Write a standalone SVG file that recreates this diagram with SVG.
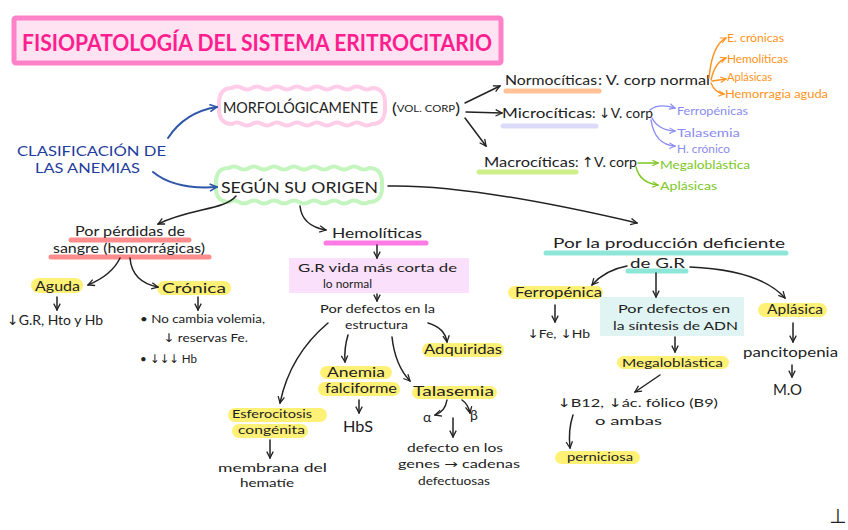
<svg xmlns="http://www.w3.org/2000/svg" width="848" height="530" viewBox="0 0 848 530">
<defs>
<style>
text{font-family:"Lato","Noto Sans","DejaVu Sans",sans-serif;fill:#222;font-size:14px}
.ar{font-family:"DejaVu Sans",sans-serif}
.t12{font-size:12px}
.or{fill:#ff9320;font-size:12px}
.lv{fill:#8a8cf0;font-size:12px}
.gr{fill:#7cc81e;font-size:12px}
.bl{fill:#1e3d9c;font-size:14px}
.caps{font-size:15px}
.c{fill:none;stroke:#222;stroke-width:1.5;stroke-linecap:round}
.cb{fill:none;stroke:#2f56a8;stroke-width:2;stroke-linecap:round}
.co{fill:none;stroke:#ff9320;stroke-width:1.4;stroke-linecap:round}
.cl{fill:none;stroke:#8a8cf0;stroke-width:1.4;stroke-linecap:round}
.cg{fill:none;stroke:#7cc81e;stroke-width:1.4;stroke-linecap:round}
.hy{fill:#fff176}
.ul{stroke-width:5;stroke-linecap:round;fill:none}
</style>
<marker id="mk" viewBox="0 0 10 10" refX="9" refY="5" markerWidth="8" markerHeight="8" markerUnits="userSpaceOnUse" orient="auto"><path d="M1,1 L9,5 L1,9" fill="none" stroke="#222" stroke-width="1.6"/></marker>
<marker id="mb" viewBox="0 0 10 10" refX="9" refY="5" markerWidth="9" markerHeight="9" markerUnits="userSpaceOnUse" orient="auto"><path d="M1,1 L9,5 L1,9" fill="none" stroke="#2f56a8" stroke-width="1.8"/></marker>
<marker id="mo" viewBox="0 0 10 10" refX="9" refY="5" markerWidth="7" markerHeight="7" markerUnits="userSpaceOnUse" orient="auto"><path d="M1,1 L9,5 L1,9" fill="none" stroke="#ff9320" stroke-width="1.6"/></marker>
<marker id="ml" viewBox="0 0 10 10" refX="9" refY="5" markerWidth="7" markerHeight="7" markerUnits="userSpaceOnUse" orient="auto"><path d="M1,1 L9,5 L1,9" fill="none" stroke="#8a8cf0" stroke-width="1.6"/></marker>
<marker id="mg" viewBox="0 0 10 10" refX="9" refY="5" markerWidth="7" markerHeight="7" markerUnits="userSpaceOnUse" orient="auto"><path d="M1,1 L9,5 L1,9" fill="none" stroke="#7cc81e" stroke-width="1.6"/></marker>
</defs>
<rect width="848" height="530" fill="#ffffff"/>

<g id="title">
<rect x="14" y="18" width="487" height="45" rx="2" fill="#ffe3f3" stroke="#ff82c9" stroke-width="5"/>
<text x="22" y="51" textLength="470" lengthAdjust="spacingAndGlyphs" style="font-size:23px;font-weight:bold;fill:#ff1e8e">FISIOPATOLOGÍA  DEL SISTEMA  ERITROCITARIO</text>
</g>

<g id="clasificacion">
<text class="bl" x="17" y="156" textLength="149" lengthAdjust="spacingAndGlyphs">CLASIFICACIÓN DE</text>
<text class="bl" x="35" y="173" textLength="105" lengthAdjust="spacingAndGlyphs">LAS ANEMIAS</text>
</g>

<g id="morfologicamente">
<path d="M232,88 q5,-3 10,0 t10,0 t10,0 t10,0 t10,0 t10,0 t10,0 t10,0 t10,0 t10,0 t10,0 t10,0 t10,0 t10,0 Q386,88 385,106 Q386,124 372,124 q-5,3 -10,0 t-10,0 t-10,0 t-10,0 t-10,0 t-10,0 t-10,0 t-10,0 t-10,0 t-10,0 t-10,0 t-10,0 t-10,0 t-10,0 Q218,124 219,106 Q218,88 232,88 Z" fill="none" stroke="#ffcde8" stroke-width="4"/>
<text class="caps" x="223" y="113" textLength="155" lengthAdjust="spacingAndGlyphs">MORFOLÓGICAMENTE</text>
<text x="392" y="114" style="font-size:16px" textLength="68" lengthAdjust="spacingAndGlyphs">(<tspan style="font-size:10px" dy="-2">VOL. CORP</tspan><tspan dy="2">)</tspan></text>
</g>

<g id="segun-origen">
<path d="M229,168 q5,-3 10,0 t10,0 t10,0 t10,0 t10,0 t10,0 t10,0 t10,0 t10,0 t10,0 t10,0 t10,0 t10,0 t10,0 Q383,168 382,185 Q383,202 369,202 q-5,3 -10,0 t-10,0 t-10,0 t-10,0 t-10,0 t-10,0 t-10,0 t-10,0 t-10,0 t-10,0 t-10,0 t-10,0 t-10,0 t-10,0 Q215,202 216,185 Q215,168 229,168 Z" fill="none" stroke="#c4f5be" stroke-width="4"/>
<text class="caps" x="221" y="193" textLength="157" lengthAdjust="spacingAndGlyphs">SEGÚN SU ORIGEN</text>
</g>

<g id="normociticas">
<line class="ul" x1="506" y1="91" x2="599" y2="91" stroke="#ffc195"/>
<text x="505" y="85" textLength="92" lengthAdjust="spacingAndGlyphs">Normocíticas</text>
<text x="598" y="85" textLength="112" lengthAdjust="spacingAndGlyphs">: V. corp normal</text>
</g>
<g id="microciticas">
<line class="ul" x1="503" y1="126" x2="596" y2="126" stroke="#dcdcfa"/>
<text x="502" y="118" textLength="90" lengthAdjust="spacingAndGlyphs">Microcíticas</text>
<text x="592" y="118" textLength="61" lengthAdjust="spacingAndGlyphs">: <tspan class="ar">↓</tspan>V. corp</text>
</g>
<g id="macrociticas">
<line class="ul" x1="479" y1="172" x2="576" y2="172" stroke="#cdf08a"/>
<text x="484" y="167" textLength="91" lengthAdjust="spacingAndGlyphs">Macrocíticas</text>
<text x="575" y="167" textLength="62" lengthAdjust="spacingAndGlyphs">: <tspan class="ar">↑</tspan>V. corp</text>
</g>

<g id="normo-tipos">
<text class="or" x="727" y="42" textLength="57" lengthAdjust="spacingAndGlyphs">E. crónicas</text>
<text class="or" x="727" y="63" textLength="61" lengthAdjust="spacingAndGlyphs">Hemolíticas</text>
<text class="or" x="727" y="81" textLength="45" lengthAdjust="spacingAndGlyphs">Aplásicas</text>
<text class="or" x="725" y="98" textLength="103" lengthAdjust="spacingAndGlyphs">Hemorragia aguda</text>
</g>
<g id="micro-tipos">
<text class="lv" x="677" y="115" textLength="71" lengthAdjust="spacingAndGlyphs">Ferropénicas</text>
<text class="lv" x="677" y="137" textLength="63" lengthAdjust="spacingAndGlyphs">Talasemia</text>
<text class="lv" x="677" y="153" textLength="53" lengthAdjust="spacingAndGlyphs">H. crónico</text>
</g>
<g id="macro-tipos">
<text class="gr" x="660" y="169" textLength="90" lengthAdjust="spacingAndGlyphs">Megaloblástica</text>
<text class="gr" x="660" y="190" textLength="57" lengthAdjust="spacingAndGlyphs">Aplásicas</text>
</g>

<g id="perdidas">
<line class="ul" x1="71" y1="240" x2="189" y2="240" stroke="#ff8c8c"/>
<line class="ul" x1="51" y1="257" x2="209" y2="257" stroke="#ff8c8c"/>
<text x="75" y="236" textLength="110" lengthAdjust="spacingAndGlyphs">Por pérdidas de</text>
<text x="53" y="253" textLength="152" lengthAdjust="spacingAndGlyphs">sangre (hemorrágicas)</text>
</g>
<g id="aguda">
<rect class="hy" x="31" y="278" width="52" height="15" rx="7.5"/>
<text x="35" y="291" textLength="45" lengthAdjust="spacingAndGlyphs">Aguda</text>
<text x="7" y="325" textLength="96" lengthAdjust="spacingAndGlyphs"><tspan class="ar">↓</tspan>G.R, Hto y Hb</text>
</g>
<g id="cronica">
<rect class="hy" x="157" y="281" width="74" height="14" rx="7"/>
<text x="162" y="293" textLength="64" lengthAdjust="spacingAndGlyphs">Crónica</text>
<text class="t12" x="140" y="323" textLength="125" lengthAdjust="spacingAndGlyphs">• No cambia volemia,</text>
<text class="t12" x="163" y="342" textLength="85" lengthAdjust="spacingAndGlyphs"><tspan class="ar">↓</tspan> reservas Fe.</text>
<text class="t12" x="140" y="363" textLength="57" lengthAdjust="spacingAndGlyphs">• <tspan class="ar">↓↓↓</tspan> Hb</text>
</g>

<g id="hemoliticas">
<line class="ul" x1="326" y1="243" x2="426" y2="243" stroke="#ff7ae4"/>
<text x="332" y="238" textLength="90" lengthAdjust="spacingAndGlyphs">Hemolíticas</text>
</g>
<g id="vida-corta">
<rect x="289" y="258" width="180" height="35" fill="#fae0fa"/>
<text x="298" y="272" textLength="159" lengthAdjust="spacingAndGlyphs" style="font-size:11.5px">G.R vida más corta de</text>
<text x="323" y="288" textLength="49" lengthAdjust="spacingAndGlyphs" style="font-size:11.5px">lo normal</text>
</g>
<g id="defectos-estructura">
<text x="320" y="313" textLength="115" lengthAdjust="spacingAndGlyphs" style="font-size:11.5px">Por defectos en la</text>
<text x="345" y="329" textLength="63" lengthAdjust="spacingAndGlyphs" style="font-size:11.5px">estructura</text>
</g>
<g id="adquiridas">
<rect class="hy" x="422" y="343" width="82" height="14" rx="7"/>
<text x="424" y="354" textLength="78" lengthAdjust="spacingAndGlyphs">Adquiridas</text>
</g>
<g id="falciforme">
<rect class="hy" x="320" y="366" width="72" height="13" rx="6.5"/>
<rect class="hy" x="318" y="382" width="82" height="14" rx="7"/>
<text x="327" y="377" textLength="58" lengthAdjust="spacingAndGlyphs" style="font-size:13px">Anemia</text>
<text x="325" y="393" textLength="72" lengthAdjust="spacingAndGlyphs" style="font-size:13px">falciforme</text>
<text x="343" y="432" textLength="30" lengthAdjust="spacingAndGlyphs" style="font-size:15px">HbS</text>
</g>
<g id="talasemia">
<rect class="hy" x="412" y="386" width="85" height="13" rx="6.5"/>
<text x="413" y="396" textLength="81" lengthAdjust="spacingAndGlyphs">Talasemia</text>
<text x="423" y="422">α</text>
<text x="470" y="420">β</text>
<text class="t12" x="407" y="452" textLength="96" lengthAdjust="spacingAndGlyphs">defecto en los</text>
<text class="t12" x="398" y="468" textLength="122" lengthAdjust="spacingAndGlyphs">genes <tspan class="ar">→</tspan> cadenas</text>
<text class="t12" x="418" y="485" textLength="72" lengthAdjust="spacingAndGlyphs">defectuosas</text>
</g>
<g id="esferocitosis">
<rect class="hy" x="228" y="408" width="99" height="14" rx="7"/>
<rect class="hy" x="232" y="424" width="76" height="14" rx="7"/>
<text class="t12" x="232" y="418" textLength="80" lengthAdjust="spacingAndGlyphs">Esferocitosis</text>
<text class="t12" x="238" y="434" textLength="67" lengthAdjust="spacingAndGlyphs">congénita</text>
<text class="t12" x="218" y="472" textLength="109" lengthAdjust="spacingAndGlyphs">membrana del</text>
<text class="t12" x="240" y="487" textLength="54" lengthAdjust="spacingAndGlyphs">hematíe</text>
</g>

<g id="produccion">
<line class="ul" x1="546" y1="253" x2="786" y2="253" stroke="#8ee6d8"/>
<line class="ul" x1="628" y1="271" x2="686" y2="271" stroke="#8ee6d8"/>
<text x="553" y="248" textLength="232" lengthAdjust="spacingAndGlyphs">Por la producción deficiente</text>
<text x="630" y="268" textLength="55" lengthAdjust="spacingAndGlyphs">de G.R</text>
</g>
<g id="ferropenica">
<rect class="hy" x="508" y="286" width="95" height="13" rx="6.5"/>
<text x="515" y="297" textLength="87" lengthAdjust="spacingAndGlyphs">Ferropénica</text>
<text class="t12" x="527" y="338" textLength="63" lengthAdjust="spacingAndGlyphs"><tspan class="ar">↓</tspan>Fe, <tspan class="ar">↓</tspan>Hb</text>
</g>
<g id="sintesis-adn">
<rect x="600" y="297" width="144" height="39" fill="#e0f5f3"/>
<text class="t12" x="618" y="313" textLength="112" lengthAdjust="spacingAndGlyphs">Por defectos en</text>
<text class="t12" x="613" y="330" textLength="125" lengthAdjust="spacingAndGlyphs">la síntesis de ADN</text>
</g>
<g id="megaloblastica">
<rect class="hy" x="617" y="356" width="112" height="13" rx="6.5"/>
<text class="t12" x="622" y="367" textLength="101" lengthAdjust="spacingAndGlyphs">Megaloblástica</text>
<text class="t12" x="557" y="407" textLength="161" lengthAdjust="spacingAndGlyphs"><tspan class="ar">↓</tspan>B12, <tspan class="ar">↓</tspan>ác. fólico (B9)</text>
<text class="t12" x="595" y="425" textLength="67" lengthAdjust="spacingAndGlyphs">o ambas</text>
</g>
<g id="perniciosa">
<rect class="hy" x="555" y="451" width="85" height="13" rx="6.5"/>
<text class="t12" x="567" y="461" textLength="66" lengthAdjust="spacingAndGlyphs">perniciosa</text>
</g>
<g id="aplasica">
<rect class="hy" x="758" y="303" width="69" height="14" rx="7"/>
<text x="767" y="314" textLength="56" lengthAdjust="spacingAndGlyphs">Aplásica</text>
<text x="743" y="357" textLength="95" lengthAdjust="spacingAndGlyphs">pancitopenia</text>
<text x="773" y="395" textLength="29" lengthAdjust="spacingAndGlyphs" style="font-size:15px">M.O</text>
</g>
<g id="marca">
<text x="829" y="523" class="ar" style="font-size:20px">⊥</text>
</g>

<g id="connectors">
<path class="cb" d="M168,138 Q185,112 217,107" marker-end="url(#mb)"/>
<path class="cb" d="M153,172 Q175,190 217,187" marker-end="url(#mb)"/>
<path class="c" d="M465,103 L500,86" marker-end="url(#mk)"/>
<path class="c" d="M466,112 L502,113" marker-end="url(#mk)"/>
<path class="c" d="M465,118 L486,146" marker-end="url(#mk)"/>
<path class="co" d="M709,78 Q712,45 726,38" marker-end="url(#mo)"/>
<path class="co" d="M711,80 Q715,62 726,58" marker-end="url(#mo)"/>
<path class="co" d="M712,81 L726,79" marker-end="url(#mo)"/>
<path class="co" d="M711,83 Q715,93 724,94" marker-end="url(#mo)"/>
<path class="cl" d="M650,110 Q658,103 675,108" marker-end="url(#ml)"/>
<path class="cl" d="M652,118 Q658,130 675,131" marker-end="url(#ml)"/>
<path class="cl" d="M651,120 Q655,145 675,146" marker-end="url(#ml)"/>
<path class="cg" d="M638,163 L658,163" marker-end="url(#mg)"/>
<path class="cg" d="M636,167 Q640,183 658,185" marker-end="url(#mg)"/>
<path class="c" d="M236,196 C225,210 190,208 158,224" marker-end="url(#mk)"/>
<path class="c" d="M300,206 Q302,226 326,230" marker-end="url(#mk)"/>
<path class="c" d="M388,186 Q470,184 637,223" marker-end="url(#mk)"/>
<path class="c" d="M120,258 Q112,275 88,285" marker-end="url(#mk)"/>
<path class="c" d="M130,258 Q132,282 158,287" marker-end="url(#mk)"/>
<path class="c" d="M57,297 L57,310" marker-end="url(#mk)"/>
<path class="c" d="M198,297 L198,310" marker-end="url(#mk)"/>
<path class="c" d="M377,245 L377,258" marker-end="url(#mk)"/>
<path class="c" d="M377,294 L377,301" marker-end="url(#mk)"/>
<path class="c" d="M328,323 Q290,355 280,403" marker-end="url(#mk)"/>
<path class="c" d="M348,335 Q344,348 345,362" marker-end="url(#mk)"/>
<path class="c" d="M392,337 Q395,365 410,381" marker-end="url(#mk)"/>
<path class="c" d="M428,323 Q445,328 447,342" marker-end="url(#mk)"/>
<path class="c" d="M359,400 L359,413" marker-end="url(#mk)"/>
<path class="c" d="M447,400 Q445,412 435,415" marker-end="url(#mk)"/>
<path class="c" d="M462,400 Q468,404 470,413" marker-end="url(#mk)"/>
<path class="c" d="M453,418 L453,437" marker-end="url(#mk)"/>
<path class="c" d="M270,440 L270,458" marker-end="url(#mk)"/>
<path class="c" d="M627,266 Q605,270 592,285" marker-end="url(#mk)"/>
<path class="c" d="M656,273 L656,297" marker-end="url(#mk)"/>
<path class="c" d="M690,267 Q760,270 785,298" marker-end="url(#mk)"/>
<path class="c" d="M555,305 L555,322" marker-end="url(#mk)"/>
<path class="c" d="M675,337 L675,352" marker-end="url(#mk)"/>
<path class="c" d="M660,375 L635,392" marker-end="url(#mk)"/>
<path class="c" d="M793,323 L793,342" marker-end="url(#mk)"/>
<path class="c" d="M792,365 L792,377" marker-end="url(#mk)"/>
<path class="c" d="M573,415 Q568,430 570,448" marker-end="url(#mk)"/>
</g>
</svg>
